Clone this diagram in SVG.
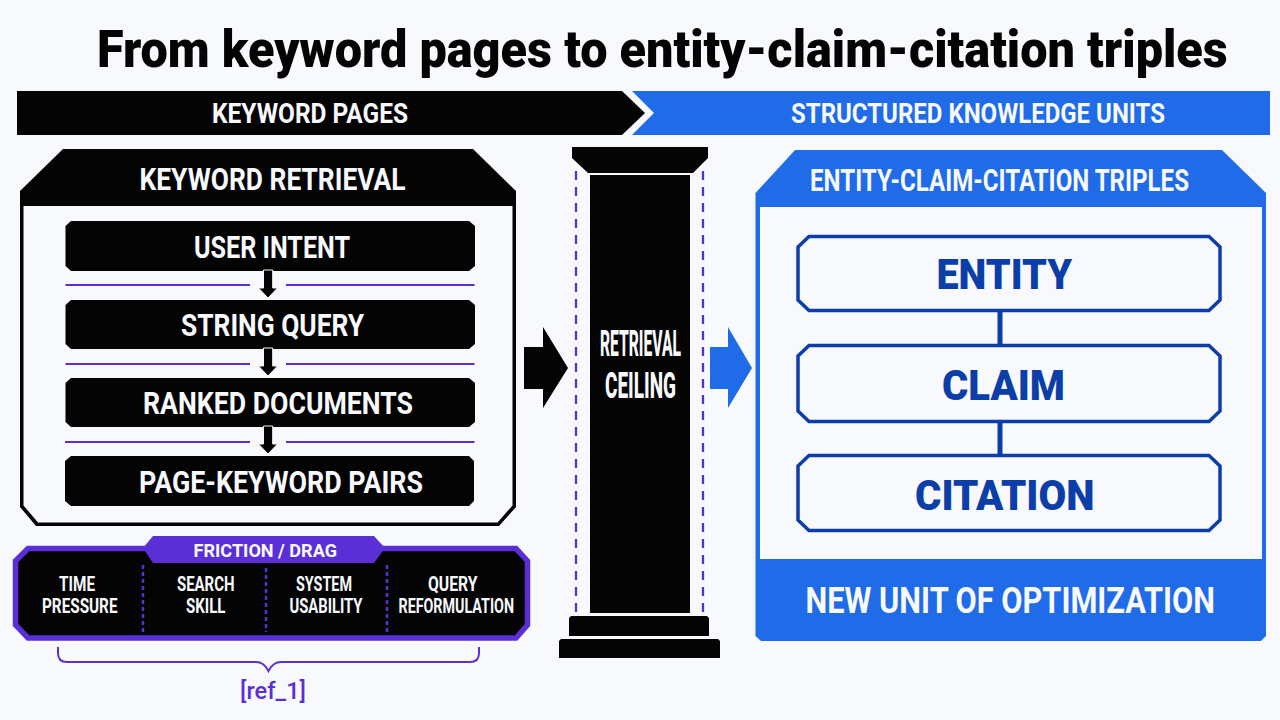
<svg xmlns="http://www.w3.org/2000/svg" width="1280" height="720" viewBox="0 0 1280 720">
<defs>
<style>
text{font-family:"Roboto","Liberation Sans",sans-serif;font-weight:700}
.w{fill:#f8f9fc}
.k{fill:#040405}
.b{fill:#1f6be8}
.d{fill:#0b3ea8}
.p{fill:#5b2fd6}
.line{stroke:#5b2fd6;stroke-width:2;fill:none}
.dash{stroke:#5b2fd6;stroke-width:2.300;fill:none;stroke-dasharray:9 7}
.dot{stroke:#5b2fd6;stroke-width:2.5;fill:none;stroke-dasharray:4 3}
.node{fill:#f8f9fc;stroke:#0b3ea8;stroke-width:3.5}
.conn{stroke:#0b3ea8;stroke-width:5;fill:none}
.s18{font-size:18px}.s20{font-size:20px}.s27{font-size:27px}.s31{font-size:31px}.s36{font-size:37px}.s42{font-size:43px;font-weight:900}
.s38{font-size:36px;font-weight:800}
</style>
<path id="down" d="M263.5 0H272.700V18H277.500L268 28L258.500 18H263.500Z" fill="#040405" stroke="#f8f9fc" stroke-width="1"/>
</defs>
<rect width="1280" height="720" fill="#f8f9fc"/>
<text id="title" transform="translate(97 67) scale(.88 1)" font-size="52" class="k" textLength="1285" lengthAdjust="spacingAndGlyphs" style="font-weight:900">From keyword pages to entity-claim-citation triples</text>

<g id="banner-left"><path class="k" d="M17 91H622L645 113L622 135H17Z"/>
<text class="w s27" x="212" y="123" textLength="196" lengthAdjust="spacingAndGlyphs">KEYWORD PAGES</text></g>
<g id="banner-right"><path class="b" d="M632 91H1270V135H632L654 113Z"/>
<text class="w s27" x="791" y="123" textLength="374" lengthAdjust="spacingAndGlyphs">STRUCTURED KNOWLEDGE UNITS</text></g>

<g id="keyword-panel">
<path class="k" d="M63 149H473L516 191V507L499 526H36L20 507V191Z"/>
<path class="w" d="M23.500 206H512.500V505.500L497.500 522.500H38L23.500 505.500Z"/>
<text class="w s31" x="139.500" y="190" textLength="266" lengthAdjust="spacingAndGlyphs">KEYWORD RETRIEVAL</text>
</g>
<g id="user-intent"><path class="k" d="M71 221H469L475 226V266L469 271H71L65.500 266V226Z"/>
<text class="w s31" x="194" y="258" textLength="156" lengthAdjust="spacingAndGlyphs">USER INTENT</text></g>
<g id="string-query"><path class="k" d="M71 300H469L475 305V344L469 349H71L65.500 344V305Z"/>
<text class="w s31" x="181" y="336" textLength="183" lengthAdjust="spacingAndGlyphs">STRING QUERY</text></g>
<g id="ranked-documents"><path class="k" d="M71 378H469L475 383V422L469 427H71L65.500 422V383Z"/>
<text class="w s31" x="143" y="414" textLength="270" lengthAdjust="spacingAndGlyphs">RANKED DOCUMENTS</text></g>
<g id="page-keyword-pairs"><path class="k" d="M71 456H469L474 461V501L469 506H71L65 501V461Z"/>
<text class="w s31" x="139" y="493" textLength="284" lengthAdjust="spacingAndGlyphs">PAGE-KEYWORD PAIRS</text></g>

<g id="friction">
<path class="k" stroke="#5b2fd6" stroke-width="5.500" stroke-linejoin="miter" d="M28 548.500H516L527.500 561V625L516 638H28L15.500 625V561Z"/>
<path class="p" d="M153 536H374L385 548L374 563H153L143 548Z"/>
<text class="w s18" x="193.500" y="557" textLength="143.500" lengthAdjust="spacingAndGlyphs">FRICTION / DRAG</text>
<path class="dot" d="M143 565V632M266 568V632M387 565V632"/>
<text class="w s20" x="59" y="591" textLength="36" lengthAdjust="spacingAndGlyphs">TIME</text>
<text class="w s20" x="42" y="613" textLength="75.500" lengthAdjust="spacingAndGlyphs">PRESSURE</text>
<text class="w s20" x="177" y="591" textLength="57.500" lengthAdjust="spacingAndGlyphs">SEARCH</text>
<text class="w s20" x="186" y="613" textLength="39.500" lengthAdjust="spacingAndGlyphs">SKILL</text>
<text class="w s20" x="296" y="591" textLength="56" lengthAdjust="spacingAndGlyphs">SYSTEM</text>
<text class="w s20" x="289.500" y="613" textLength="73" lengthAdjust="spacingAndGlyphs">USABILITY</text>
<text class="w s20" x="428" y="591" textLength="49.500" lengthAdjust="spacingAndGlyphs">QUERY</text>
<text class="w s20" x="398.500" y="613" textLength="115.500" lengthAdjust="spacingAndGlyphs">REFORMULATION</text>
</g>
<g id="ref"><text class="p" font-size="23" x="240" y="699" textLength="66" lengthAdjust="spacingAndGlyphs" style="font-weight:500">[ref_1]</text></g>

<g id="pillar">
<path class="k" d="M572 147H708V158L693 173H588L572 158Z"/>
<rect class="k" x="590" y="175" width="100" height="438"/>
<path class="k" d="M571 616H707L709 618V636H569V618Z"/>
<path class="k" d="M561 639H718L720 641V658H559V641Z"/>
<text class="w s38" transform="translate(600 355.500) scale(.47 1)" textLength="172.300" lengthAdjust="spacingAndGlyphs">RETRIEVAL</text>
<text class="w s38" transform="translate(605 397.500) scale(.47 1)" textLength="151" lengthAdjust="spacingAndGlyphs">CEILING</text>
</g>

<g id="triples-panel">
<path class="b" d="M795 150H1222L1266 193V636L1261 641H761L755.500 636V193Z"/>
<rect class="w" x="760" y="207" width="502" height="352"/>
<text class="w s31" transform="translate(810 191) scale(.8 1)" textLength="473.750" lengthAdjust="spacingAndGlyphs">ENTITY-CLAIM-CITATION TRIPLES</text>
<text class="w s36" transform="translate(805.500 613) scale(.85 1)" textLength="481.800" lengthAdjust="spacingAndGlyphs">NEW UNIT OF OPTIMIZATION</text>
</g>

<g id="connectors">
<path class="line" d="M65.500 285H250M286 285H474.500M65.500 364H250M286 364H474.500M65 442H250M286 442H474.500"/>
<use href="#down" y="270"/>
<use href="#down" y="348"/>
<use href="#down" y="426"/>
<path class="conn" d="M1000 312V344M1000 423V454"/>
<path class="k" d="M524 347H543V327L568 368L543 408V389H524Z"/>
<path class="b" d="M710 347H728V327L752 368L728 408V389H710Z"/>
<path class="dash" d="M576 171V612M703 171V612"/>
<path class="line" d="M58 647V653Q58 662 67 662H256Q264 662 268.500 671Q273 662 281 662H470Q479 662 479 653V647"/>
</g>

<g id="entity"><path class="node" d="M809 236.500H1209L1220 247V300L1209 310.500H809L798 300V247Z"/>
<text class="d s42" x="936.500" y="289" textLength="135.500" lengthAdjust="spacingAndGlyphs">ENTITY</text></g>
<g id="claim"><path class="node" d="M809 345.500H1209L1220 356V411L1209 421.500H809L798 411V356Z"/>
<text class="d s42" x="942" y="400" textLength="123" lengthAdjust="spacingAndGlyphs">CLAIM</text></g>
<g id="citation"><path class="node" d="M809 455.500H1209L1220 466V520L1209 530.500H809L798 520V466Z"/>
<text class="d s42" x="915" y="510" textLength="179.500" lengthAdjust="spacingAndGlyphs">CITATION</text></g>
</svg>
